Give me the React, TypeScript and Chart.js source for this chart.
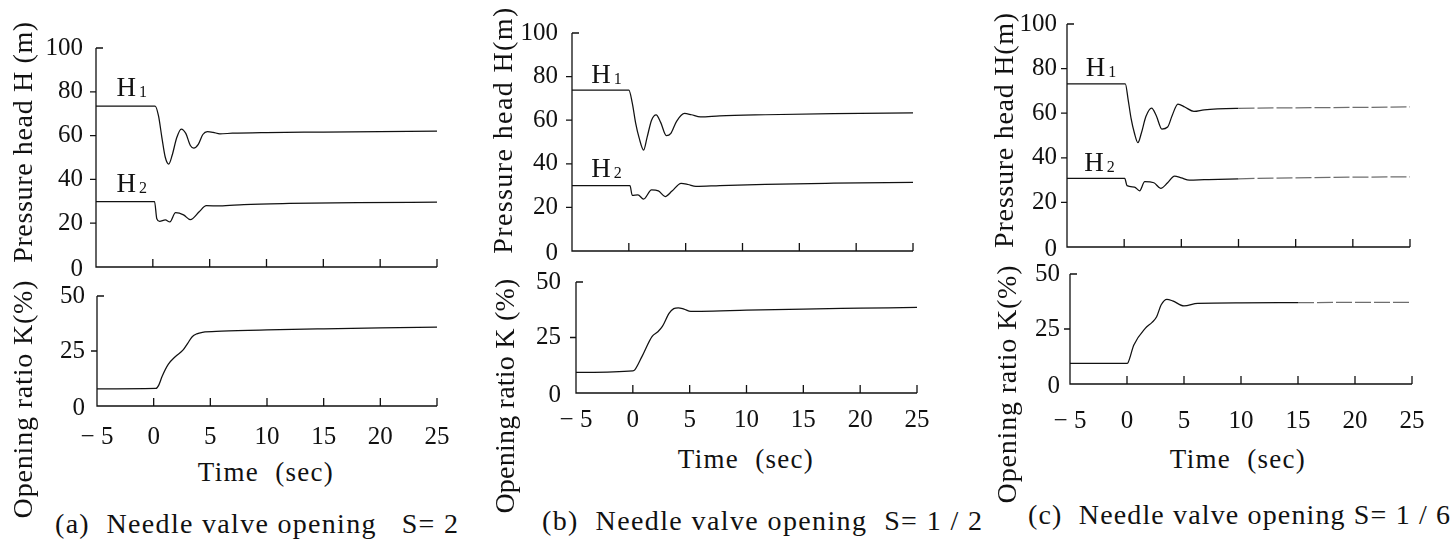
import React, { useEffect, useRef } from 'react';
import { Chart, registerables } from 'chart.js';

Chart.register(...registerables);

const FONT = '"Liberation Serif", "Times New Roman", serif';
const INK = '#111';

// Axis ticks
const timeTicks = [-5, 0, 5, 10, 15, 20, 25];
const timeTickLabels = ['\u2212 5', '0', '5', '10', '15', '20', '25'];
const headTicks = [0, 20, 40, 60, 80, 100];
const ratioTicks = [0, 25, 50];

// (a) needle valve opening S = 2
const tH1a = [-5, 0.2, 0.5, 0.8, 1.1, 1.4, 1.7, 2.1, 2.5, 2.9, 3.3, 3.6, 4.0, 4.4, 4.8, 5.3, 5.9, 7, 10, 15, 20, 25];
const h1a = [73.5, 73.5, 69, 59, 50, 47, 51, 59, 63, 61, 55.5, 54.3, 56, 60.5, 61.8, 61.5, 60.8, 61.1, 61.4, 61.6, 61.8, 62];
const tH2a = [-5, 0.15, 0.35, 0.6, 1.1, 1.5, 2.0, 2.7, 3.3, 4.1, 4.7, 5.9, 8, 12, 18, 25];
const h2a = [29.8, 29.8, 22, 20.8, 21.5, 20.6, 24.8, 23.8, 21.6, 25.3, 28, 27.9, 28.5, 29, 29.4, 29.6];
const tKa = [-5, 0.2, 0.45, 0.75, 1.3, 1.9, 2.6, 3.0, 3.4, 3.8, 4.3, 6, 10, 15, 20, 25];
const ka = [7.8, 8, 9.5, 13.5, 19, 22.4, 25.5, 28.5, 31.5, 32.8, 33.5, 34, 34.6, 35.1, 35.5, 35.8];

// (b) needle valve opening S = 1/2
const tH1b = [-5, 0, 0.3, 0.6, 0.9, 1.3, 1.6, 2.0, 2.4, 2.8, 3.3, 3.7, 4.2, 4.9, 5.5, 6.3, 8, 12, 18, 25];
const h1b = [73.8, 73.8, 68, 58.7, 52, 46.3, 52, 60, 62.4, 59, 52.9, 54, 59.5, 63.1, 62.5, 61.5, 62, 62.5, 63, 63.4];
const tH2b = [-5, 0.1, 0.3, 0.8, 1.3, 2.0, 2.6, 3.2, 3.8, 4.6, 5.2, 5.9, 8, 12, 18, 25];
const h2b = [30, 30, 25.5, 25.7, 23.8, 28, 27.6, 25, 27.5, 31, 30.5, 29.6, 30, 30.6, 31.1, 31.5];
const tKb = [-5, 0, 0.15, 0.8, 1.7, 2.2, 2.6, 3.2, 3.6, 4.0, 4.5, 5.1, 6, 10, 15, 20, 25];
const kb = [9.3, 10, 10.3, 16.4, 25.5, 27.6, 30, 36, 38, 38.4, 37.8, 36.8, 36.8, 37.3, 37.8, 38.2, 38.6];

// (c) needle valve opening S = 1/6
const tH1c = [-5, 0.1, 0.35, 0.6, 0.9, 1.2, 1.5, 1.9, 2.4, 2.8, 3.3, 3.8, 4.2, 4.7, 5.3, 6.1, 7, 10, 15, 20, 25];
const h1c = [73.2, 73.2, 66, 57.8, 51, 46.8, 51, 58.5, 62.3, 59, 52.9, 53.8, 59, 64.1, 62.8, 60.8, 61.5, 62.2, 62.4, 62.6, 62.8];
const tH2c = [-5, 0.05, 0.25, 0.9, 1.35, 1.8, 2.6, 3.2, 3.8, 4.4, 5.0, 5.7, 7, 10, 15, 20, 25];
const h2c = [30.8, 30.8, 27.5, 26.9, 25.2, 29.3, 28.8, 26.3, 28.8, 31.8, 31, 30, 30.2, 30.6, 31, 31.3, 31.5];
const tKc = [-5, 0, 0.1, 0.6, 1.6, 2.2, 2.6, 3.0, 3.5, 4.0, 5.0, 6.2, 10, 15, 20, 25];
const kc = [9.4, 9.4, 9.8, 17.7, 25.3, 28, 30.6, 36, 38.5, 37.8, 35.5, 36.7, 36.9, 37, 37.1, 37.1];

type Series = { t: number[]; v: number[] };
type Tag = { main: string; sub: string; t: number; v: number };
type SubPlot = {
  id: string;
  left: number; top: number; right: number; bottom: number;
  yMax: number; yTicks: number[];
  series: Series[];
  tags: Tag[];
  xLabels: boolean;
  yLabelGap: number;
  xLabelGap: number;
  fadeFrom?: number;
};

const subplots: SubPlot[] = [
  { id: 'a-head', left: 96, top: 48, right: 437, bottom: 267, yMax: 100, yTicks: headTicks,
    series: [{ t: tH1a, v: h1a }, { t: tH2a, v: h2a }],
    tags: [{ main: 'H', sub: '1', t: -3.2, v: 82 }, { main: 'H', sub: '2', t: -3.2, v: 38.3 }],
    xLabels: false, yLabelGap: 13, xLabelGap: 0 },
  { id: 'a-ratio', left: 97, top: 296, right: 437, bottom: 406, yMax: 50, yTicks: ratioTicks,
    series: [{ t: tKa, v: ka }], tags: [], xLabels: true, yLabelGap: 12, xLabelGap: 31 },
  { id: 'b-head', left: 572, top: 33, right: 913, bottom: 251, yMax: 100, yTicks: headTicks,
    series: [{ t: tH1b, v: h1b }, { t: tH2b, v: h2b }],
    tags: [{ main: 'H', sub: '1', t: -3.3, v: 81 }, { main: 'H', sub: '2', t: -3.3, v: 38.3 }],
    xLabels: false, yLabelGap: 14, xLabelGap: 0 },
  { id: 'b-ratio', left: 576, top: 282, right: 917, bottom: 393, yMax: 50, yTicks: ratioTicks,
    series: [{ t: tKb, v: kb }], tags: [], xLabels: true, yLabelGap: 15, xLabelGap: 27 },
  { id: 'c-head', left: 1067, top: 24, right: 1410, bottom: 247, yMax: 100, yTicks: headTicks,
    series: [{ t: tH1c, v: h1c }, { t: tH2c, v: h2c }],
    tags: [{ main: 'H', sub: '1', t: -3.35, v: 80.5 }, { main: 'H', sub: '2', t: -3.5, v: 38 }],
    xLabels: false, yLabelGap: 10, xLabelGap: 0, fadeFrom: 10 },
  { id: 'c-ratio', left: 1070, top: 274, right: 1412, bottom: 384, yMax: 50, yTicks: ratioTicks,
    series: [{ t: tKc, v: kc }], tags: [], xLabels: true, yLabelGap: 10, xLabelGap: 37, fadeFrom: 15 },
];

const ML = 80, MR = 30, MT = 14;

// Draws the hand-drafted style axes: corner axis lines, short ticks, tick labels and curve tags.
function paperAxes(sp: SubPlot) {
  return {
    id: 'paperAxes-' + sp.id,
    afterDatasetsDraw(chart: any) {
      const { ctx, scales } = chart;
      const x = scales.x, y = scales.y;
      const x0 = x.getPixelForValue(-5);
      const x1 = x.getPixelForValue(25);
      const y0 = y.getPixelForValue(0);
      const y1 = y.getPixelForValue(sp.yMax);
      ctx.save();
      ctx.strokeStyle = INK;
      ctx.lineWidth = 1.3;
      ctx.beginPath();
      ctx.moveTo(x0, y1);
      ctx.lineTo(x0, y0);
      ctx.lineTo(x1, y0);
      for (const v of sp.yTicks) {
        const py = y.getPixelForValue(v);
        if (v === sp.yMax) { ctx.moveTo(x0, py); ctx.lineTo(x0 + 7, py); }
        else if (v !== 0) { ctx.moveTo(x0 - 6, py); ctx.lineTo(x0, py); }
      }
      for (const t of timeTicks) {
        if (t === -5) continue;
        const px = x.getPixelForValue(t);
        ctx.moveTo(px, y0);
        ctx.lineTo(px, y0 - 8);
      }
      ctx.stroke();

      ctx.fillStyle = INK;
      ctx.font = `25px ${FONT}`;
      ctx.textAlign = 'right';
      ctx.textBaseline = 'middle';
      for (const v of sp.yTicks) {
        const py = y.getPixelForValue(v);
        ctx.fillText(String(v), x0 - sp.yLabelGap, py + (v === 0 ? 2 : 0));
      }
      if (sp.xLabels) {
        ctx.textAlign = 'center';
        timeTicks.forEach((t, i) => {
          ctx.fillText(timeTickLabels[i], x.getPixelForValue(t), y0 + sp.xLabelGap);
        });
      }
      for (const tag of sp.tags) {
        const px = x.getPixelForValue(tag.t);
        const py = y.getPixelForValue(tag.v);
        ctx.textAlign = 'left';
        ctx.textBaseline = 'alphabetic';
        ctx.font = `27px ${FONT}`;
        ctx.fillText(tag.main, px, py + 9);
        const w = ctx.measureText(tag.main).width;
        ctx.font = `16px ${FONT}`;
        ctx.fillText(tag.sub, px + w + 3, py + 10);
      }
      ctx.restore();
    },
  };
}

function SubChart({ sp }: { sp: SubPlot }) {
  const ref = useRef<HTMLCanvasElement | null>(null);
  const MB = sp.xLabels ? 50 : 12;
  const w = sp.right - sp.left + ML + MR;
  const h = sp.bottom - sp.top + MT + MB;

  useEffect(() => {
    if (!ref.current) return;
    const fade = sp.fadeFrom;
    const chart = new Chart(ref.current, {
      type: 'line',
      data: {
        datasets: sp.series.map((s) => ({
          data: s.t.map((t, i) => ({ x: t, y: s.v[i] })),
          borderColor: INK,
          borderWidth: 1.25,
          pointRadius: 0,
          fill: false,
          cubicInterpolationMode: 'monotone' as const,
          segment: fade === undefined ? undefined : {
            borderColor: (c: any) => (c.p0.parsed.x >= fade ? '#6e6e6e' : INK),
            borderDash: (c: any) => (c.p0.parsed.x >= fade ? [16, 3] : undefined),
          },
        })),
      },
      options: {
        animation: false,
        responsive: false,
        maintainAspectRatio: false,
        events: [],
        layout: { padding: { left: ML, right: MR, top: MT, bottom: MB } },
        scales: {
          x: { type: 'linear', min: -5, max: 25, display: false },
          y: { type: 'linear', min: 0, max: sp.yMax, display: false },
        },
        plugins: { legend: { display: false }, tooltip: { enabled: false } },
      },
      plugins: [paperAxes(sp)],
    });
    return () => chart.destroy();
  }, [sp]);

  return (
    <canvas
      ref={ref}
      width={w}
      height={h}
      style={{ position: 'absolute', left: sp.left - ML, top: sp.top - MT, width: w, height: h }}
    />
  );
}

const measureCtx = typeof document !== 'undefined' ? document.createElement('canvas').getContext('2d') : null;
function spacingFor(text: string, size: number, target: number) {
  if (!measureCtx) return 0;
  measureCtx.font = `${size}px ${FONT}`;
  const natural = measureCtx.measureText(text).width;
  return (target - natural) / Math.max(1, text.length - 1);
}

type TextSpec = { text: string; x: number; y: number; len: number; size: number; rotate?: boolean; anchor?: 'left' | 'center' };

const axisTitles: TextSpec[] = [
  { text: 'Pressure head H (m)', x: 23, y: 142, len: 241, size: 28, rotate: true },
  { text: 'Opening ratio K(%)', x: 23, y: 399, len: 238, size: 28, rotate: true },
  { text: 'Pressure head H(m)', x: 503, y: 130, len: 246, size: 28, rotate: true },
  { text: 'Opening ratio K (%)', x: 505, y: 396, len: 235, size: 28, rotate: true },
  { text: 'Pressure head H(m)', x: 1004, y: 130, len: 235, size: 28, rotate: true },
  { text: 'Opening ratio K(%)', x: 1007, y: 384, len: 238, size: 28, rotate: true },
  { text: 'Time  (sec)', x: 266, y: 472, len: 135, size: 27, anchor: 'center' },
  { text: 'Time  (sec)', x: 746, y: 459, len: 135, size: 27, anchor: 'center' },
  { text: 'Time  (sec)', x: 1238, y: 459, len: 135, size: 27, anchor: 'center' },
  { text: '(a)  Needle valve opening   S= 2', x: 55, y: 524, len: 403, size: 28, anchor: 'left' },
  { text: '(b)  Needle valve opening  S= 1 / 2', x: 542, y: 521, len: 440, size: 28, anchor: 'left' },
  { text: '(c)  Needle valve opening S= 1 / 6', x: 1028, y: 515, len: 422, size: 28, anchor: 'left' },
];

function PaperText({ spec }: { spec: TextSpec }) {
  const ls = spacingFor(spec.text, spec.size, spec.len);
  let transform = 'translate(-50%, -50%)';
  if (spec.rotate) transform = 'translate(-50%, -50%) rotate(-90deg)';
  else if (spec.anchor === 'left') transform = 'translate(0, -50%)';
  return (
    <div
      style={{
        position: 'absolute',
        left: spec.x,
        top: spec.y,
        transform,
        fontFamily: FONT,
        fontSize: spec.size,
        lineHeight: 1,
        letterSpacing: `${ls}px`,
        whiteSpace: 'pre',
        color: INK,
      }}
    >
      {spec.text}
    </div>
  );
}

export default function App() {
  useEffect(() => {
    document.body.style.margin = '0';
  }, []);
  return (
    <div style={{ position: 'absolute', left: 0, top: 0, width: 1455, height: 539, background: '#fff', overflow: 'hidden' }}>
      {subplots.map((sp) => (
        <SubChart key={sp.id} sp={sp} />
      ))}
      {axisTitles.map((t, i) => (
        <PaperText key={i} spec={t} />
      ))}
    </div>
  );
}
